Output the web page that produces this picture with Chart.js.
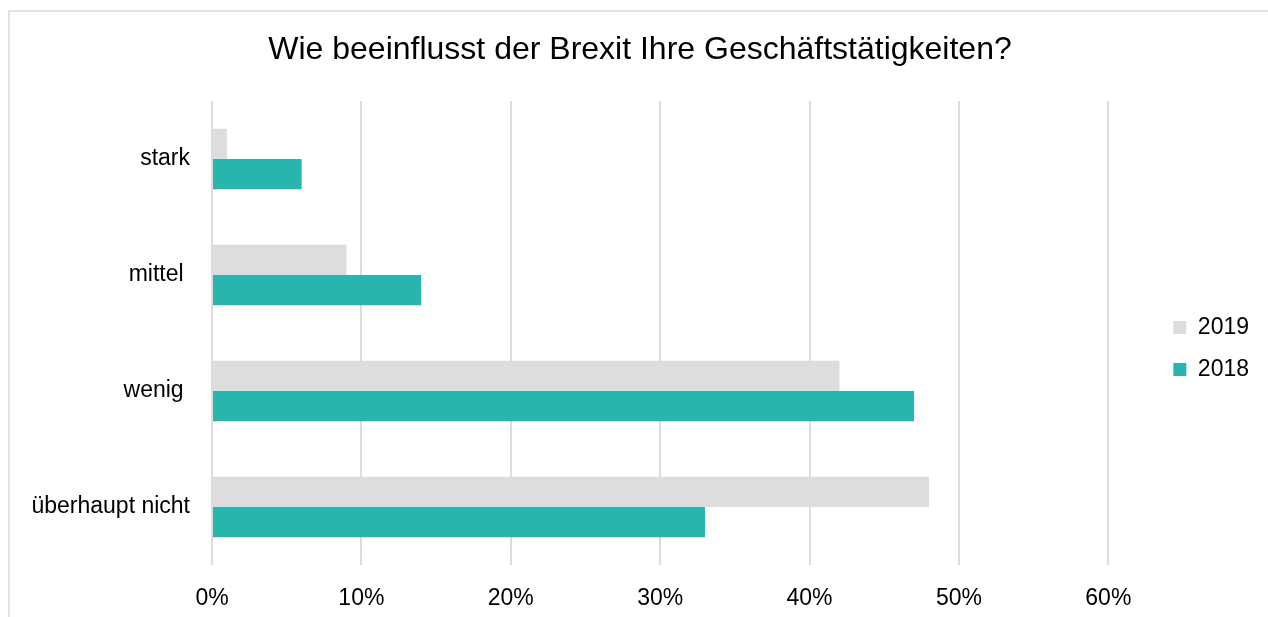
<!DOCTYPE html>
<html>
<head>
<meta charset="utf-8">
<script src="https://cdn.jsdelivr.net/npm/chart.js@4"></script>
<style>
  html, body { margin: 0; padding: 0; background: #fff; overflow: hidden; }
  .frame { position: absolute; left: 8px; top: 10px; width: 1400px; height: 800px; border: 2px solid #e3e3e3; box-sizing: border-box; }
  .wrap { position: absolute; left: 0; top: 0; width: 1268px; height: 617px; }
</style>
</head>
<body>
<div class="frame"></div>
<div class="wrap"><canvas id="chart"></canvas></div>
<script>
// Categories (top to bottom); trailing spaces as in the source labels
const categories = ['stark', 'mittel ', 'wenig ', 'überhaupt nicht'];

// Series values in %
const values2019 = [1, 9, 42, 48];
const values2018 = [6, 14, 47, 33];

// Axis ticks
const tickMax = 60;
const tickStep = 10;

const FONT = "'Liberation Sans', Arial, Helvetica, sans-serif";

const ctx = document.getElementById('chart');

new Chart(ctx, {
  type: 'bar',
  data: {
    labels: categories,
    datasets: [
      {
        label: '2019',
        data: values2019,
        backgroundColor: '#dcdddc',
        borderWidth: 0
      },
      {
        label: '2018',
        data: values2018,
        backgroundColor: '#27b5ad',
        borderWidth: 0
      }
    ]
  },
  options: {
    indexAxis: 'y',
    responsive: true,
    maintainAspectRatio: false,
    animation: false,
    layout: {
      padding: { left: 21, right: 9, top: 0, bottom: 0 }
    },
    datasets: {
      bar: {
        categoryPercentage: 0.52,
        barPercentage: 1.0
      }
    },
    scales: {
      x: {
        min: 0,
        max: tickMax,
        ticks: {
          stepSize: tickStep,
          padding: 20,
          color: '#000',
          font: { family: FONT, size: 23 },
          callback: value => value + '%'
        },
        grid: {
          color: '#dcdcdc',
          lineWidth: 2,
          drawTicks: false
        },
        border: { display: false },
        afterFit: scale => { scale.height = 52; }
      },
      y: {
        ticks: {
          padding: 22,
          color: '#000',
          font: { family: FONT, size: 23 }
        },
        grid: { display: false, drawTicks: false },
        border: { display: false },
        afterFit: scale => { scale.width = 191; }
      },
      // empty spacer between plot and legend
      gap: {
        type: 'linear',
        position: 'right',
        display: true,
        ticks: { display: false },
        grid: { display: false, drawTicks: false },
        border: { display: false },
        afterFit: scale => { scale.width = 46; }
      }
    },
    plugins: {
      title: {
        display: true,
        text: 'Wie beeinflusst der Brexit Ihre Geschäftstätigkeiten?',
        color: '#000',
        font: { family: FONT, size: 32, weight: 'normal' },
        padding: { top: 31, bottom: 31.6 }
      },
      legend: {
        position: 'right',
        labels: {
          boxWidth: 13,
          boxHeight: 13,
          padding: 19,
          color: '#000',
          font: { family: FONT, size: 23 }
        },
        title: {
          display: true,
          text: ' ',
          font: { family: FONT, size: 20 },
          padding: { top: 28, bottom: 28 }
        }
      },
      tooltip: { enabled: false }
    }
  }
});
</script>
</body>
</html>
